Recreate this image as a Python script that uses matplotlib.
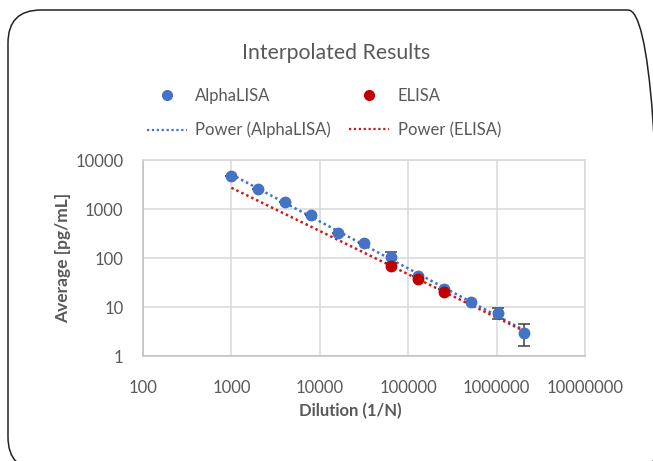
import numpy as np
import matplotlib
matplotlib.use("Agg")
import matplotlib.pyplot as plt
from matplotlib.lines import Line2D
from matplotlib.patches import FancyBboxPatch
from matplotlib.transforms import IdentityTransform
from matplotlib.ticker import FixedLocator, FixedFormatter, NullLocator

plt.rcParams['font.family'] = ['Lato', 'DejaVu Sans']

# ---- data ----
alpha_x = [1000, 2000, 4000, 8000, 16000, 32000, 64000, 128000, 256000, 512000, 1024000, 2048000]
alpha_y = [4710, 2590, 1390, 743, 328, 200, 105, 43, 23.6, 12.5, 7.6, 3.0]
alpha_err = [0, 0, 0, 0, 0, 0, 27, 0, 0, 0, 2.0, 1.4]
elisa_x = [64000, 128000, 256000]
elisa_y = [68.7, 37.8, 20.2]
x_ticks = [100, 1000, 10000, 100000, 1000000, 10000000]
x_tick_labels = ["100", "1000", "10000", "100000", "1000000", "10000000"]
y_ticks = [1, 10, 100, 1000, 10000]
y_tick_labels = ["1", "10", "100", "1000", "10000"]

BLUE = "#4472C4"
RED = "#C00000"
RED_LINE = "#D01818"
TXT = "#595959"
GRID = "#D9D9D9"

W, H = 653, 461
fig = plt.figure(figsize=(W / 100, H / 100), dpi=100)
fig.patch.set_facecolor("white")

# rounded outer border
border = FancyBboxPatch((8, H - 470), 653, 460,
                        boxstyle="round,pad=0,rounding_size=33",
                        transform=IdentityTransform(), facecolor="none",
                        edgecolor="#222222", linewidth=1.1)
fig.add_artist(border)

ax = fig.add_axes([143 / W, 1 - 356 / H, (585 - 143) / W, (356 - 160) / H])
ax.set_xscale("log")
ax.set_yscale("log")
ax.set_xlim(100, 1e7)
ax.set_ylim(1, 1e4)

ax.xaxis.set_major_locator(FixedLocator(x_ticks))
ax.xaxis.set_major_formatter(FixedFormatter(x_tick_labels))
ax.yaxis.set_major_locator(FixedLocator(y_ticks))
ax.yaxis.set_major_formatter(FixedFormatter(y_tick_labels))
ax.xaxis.set_minor_locator(NullLocator())
ax.yaxis.set_minor_locator(NullLocator())

ax.grid(True, color=GRID, linewidth=1.1)
ax.set_axisbelow(True)
for s in ax.spines.values():
    s.set_color(GRID)
    s.set_linewidth(1.1)
ax.spines['left'].set_color("#BFBFBF")
ax.spines['bottom'].set_color("#BFBFBF")
ax.tick_params(length=0, labelsize=12, labelcolor=TXT)
ax.tick_params(axis='x', pad=17)
ax.tick_params(axis='y', pad=14)

# power trendlines (least squares in log-log)
ba, aa = np.polyfit(np.log10(alpha_x), np.log10(alpha_y), 1)
be, ae = np.polyfit(np.log10(elisa_x), np.log10(elisa_y), 1)
xx = np.logspace(np.log10(min(alpha_x)), np.log10(max(alpha_x)), 50)
ax.plot(xx, 10 ** (aa + ba * np.log10(xx)), linestyle=(0, (1, 1.2)), color=BLUE, lw=1.8, zorder=2)
ax.plot(xx, 10 ** (ae + be * np.log10(xx)), linestyle=(0, (1, 1.2)), color=RED_LINE, lw=1.8, zorder=2)

ax.errorbar(alpha_x, alpha_y, yerr=alpha_err, fmt='none', ecolor="#404040",
            elinewidth=1.1, capsize=4, capthick=1.1, zorder=3)
ax.plot(alpha_x, alpha_y, 'o', color=BLUE, ms=7.5, zorder=4)
ax.plot(elisa_x, elisa_y, 'o', color=RED, ms=7.5, zorder=5)

ax.set_xlabel("Dilution (1/N)", fontsize=12, fontweight='bold', color=TXT)
ax.xaxis.set_label_coords((350 - 143) / 442, (356 - 403) / 196)
ax.set_ylabel("Average [pg/mL]", fontsize=12.5, fontweight='bold', color=TXT, labelpad=3)

fig.text(336 / W, 1 - 53 / H, "Interpolated Results", ha='center', va='center',
         fontsize=15.3, color=TXT)

handles = [
    Line2D([], [], linestyle='none', marker='o', color=BLUE, ms=7),
    Line2D([], [], linestyle=(0, (1, 1.2)), color=BLUE, lw=1.6),
    Line2D([], [], linestyle='none', marker='o', color=RED, ms=7),
    Line2D([], [], linestyle=(0, (1, 1.2)), color=RED_LINE, lw=1.6),
]
labels = ["AlphaLISA", "Power (AlphaLISA)", "ELISA", "Power (ELISA)"]
leg = fig.legend(handles, labels, ncol=2, loc='center', bbox_to_anchor=(324 / W, 1 - 113 / H),
                 frameon=False, fontsize=12, handlelength=2.4, handletextpad=0.5,
                 columnspacing=1.1, labelspacing=1.1, labelcolor=TXT)

fig.savefig("out.png", dpi=100, facecolor="white")
